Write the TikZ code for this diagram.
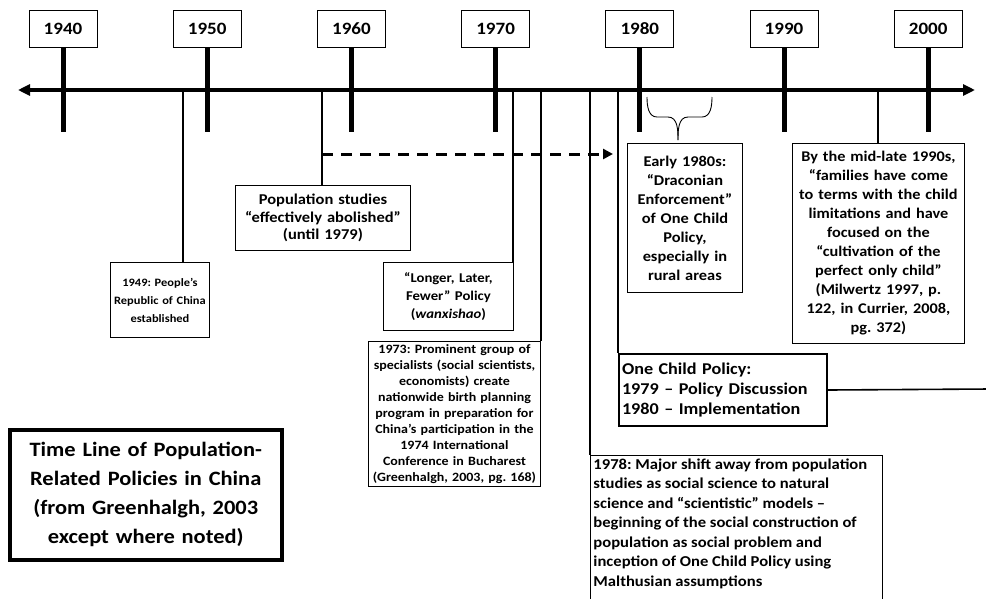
\documentclass[tikz,border=0pt]{standalone}
\usepackage{fontspec}
\setmainfont{Carlito}[FakeStretch=1.1]
\usetikzlibrary{positioning,arrows.meta,calc}

\begin{document}
\frenchspacing
\begin{tikzpicture}[x=1pt, y=-1pt]

      \tikzstyle{block}      = [rectangle, draw, line width=0.9pt, inner sep=3pt, anchor=north west, align=center]
      \tikzstyle{yearblock}  = [rectangle, draw, line width=0.9pt, minimum width=68pt, minimum height=37pt, anchor=north, font=\bfseries\fontsize{17.3}{20}\selectfont]
      \tikzstyle{connector}  = [line width=1.1pt]
      \tikzstyle{tick}       = [line width=5pt]
      \tikzstyle{timeline}   = [line width=4pt, {Triangle[length=12pt,width=11pt]}-{Triangle[length=12pt,width=11pt]}]
      \tikzstyle{dasharrow}  = [line width=3pt, dash pattern=on 11pt off 8pt, -{Triangle[length=10pt,width=10pt]}]

      \newcommand{\boxsize}[2]{\bfseries\fontsize{#1}{#2}\selectfont}

      \useasboundingbox (0,0) rectangle (986,598);

      % time axis and decades
      \coordinate (axisleft)  at (18,90);
      \coordinate (axisright) at (975,90);
      \draw [timeline] (axisleft) -- (axisright);

      \foreach \yr [count=\i from 0] in {1940,1950,...,2000} {
        \node [yearblock] (y\yr) at (63+144.2*\i, 10) {\yr};
        \draw [tick] (y\yr.south) -- ++(0,84);
      }

      % where the boxes hang from the axis
      \coordinate (a1949)     at (183,90);
      \coordinate (astudy)    at (322,90);
      \coordinate (alonger)   at (513,90);
      \coordinate (a1973)     at (541,90);
      \coordinate (a1978)     at (590,90);
      \coordinate (aonechild) at (618,90);
      \coordinate (a1990s)    at (878,90);

      \node [block, text width=93pt,  minimum height=75pt, font=\boxsize{11.3}{18}]  (est1949)  at (110,262) {1949: People’s\\Republic of China\\established};
      \node [block, text width=169pt, minimum height=65pt, font=\boxsize{15}{17.5}]  (study)    at (235,185) {Population studies\\“effectively abolished”\\(until 1979)};
      \node [block, text width=124pt, minimum height=68pt, font=\boxsize{13.4}{18}]  (longer)   at (383,262) {“Longer, Later,\\Fewer” Policy\\(\textit{wanxishao})};
      \node [block, text width=166pt, font=\boxsize{12.7}{16}]                       (plan1973) at (368,341) {1973: Prominent group of\\specialists (social scientists,\\economists) create\\nationwide birth planning\\program in preparation for\\China’s participation in the\\1974 International\\Conference in Bucharest\\(Greenhalgh, 2003, pg. 168)};
      \node [block, font=\boxsize{15.1}{19.5}]                                       (shift1978) at (590,455) {\parbox[t][150pt][t]{286pt}{\raggedright 1978: Major shift away from population\\studies as social science to natural\\science and “scientistic” models –\\beginning of the social construction of\\population as social problem and\\inception of One Child Policy using\\Malthusian assumptions}};
      \node [block, text width=109pt, minimum height=149pt, font=\boxsize{14.9}{19}] (early80s) at (627,143) {Early 1980s:\\“Draconian\\Enforcement”\\of One Child\\Policy,\\especially in\\rural areas};
      \node [block, text width=166pt, minimum height=200pt, font=\boxsize{14.8}{19}] (late90s)  at (792,143) {By the mid-late 1990s,\\“families have come\\to terms with the child\\limitations and have\\focused on the\\“cultivation of the\\perfect only child”\\(Milwertz 1997, p.\\122, in Currier, 2008,\\pg. 372)};
      \node [block, text width=202pt, minimum height=72pt, align=left, line width=2pt, font=\boxsize{16.5}{20}] (onechild) at (618,353) {One Child Policy:\\1979 – Policy Discussion\\1980 – Implementation};
      \node [block, text width=266pt, minimum height=130pt, line width=3.5pt, font=\boxsize{20.4}{29}]   (title)    at (8,428)   {Time Line of Population-\\Related Policies in China\\(from Greenhalgh, 2003\\except where noted)};

      \draw [connector] (a1949)     -- (a1949 |- est1949.north);
      \draw [connector] (astudy)    -- (astudy |- study.north);
      \draw [connector] (alonger)   -- (alonger |- longer.north);
      \draw [connector] (a1973)     -- (a1973 |- plan1973.north);
      \draw [connector] (a1978)     -- (a1978 |- shift1978.north);
      \draw [connector] (aonechild) -- (aonechild |- onechild.north);
      \draw [connector] (a1990s)    -- (a1990s |- late90s.north);

      % studies abolished until 1979
      \coordinate (dashstart) at (322,154);
      \coordinate (dashend)   at (613,154);
      \draw [dasharrow] (dashstart) -- (dashend);

      % one child policy goes on
      \coordinate (onechildend) at (990,389);
      \draw [line width=1.6pt] (onechild.east) -- (onechildend);

      % brace over the early 1980s
      \coordinate (braceleft)  at (647,97);
      \coordinate (braceright) at (712,97);
      \coordinate (bracetip)   at (678,140);
      \draw [line width=0.9pt] (braceleft) to[out=-90, in=180] (657,117) -- (668,117) to[out=0, in=90] (bracetip);
      \draw [line width=0.9pt] (braceright) to[out=-90, in=0] (702,117) -- (688,117) to[out=180, in=90] (bracetip);

    \end{tikzpicture}
\end{document}
